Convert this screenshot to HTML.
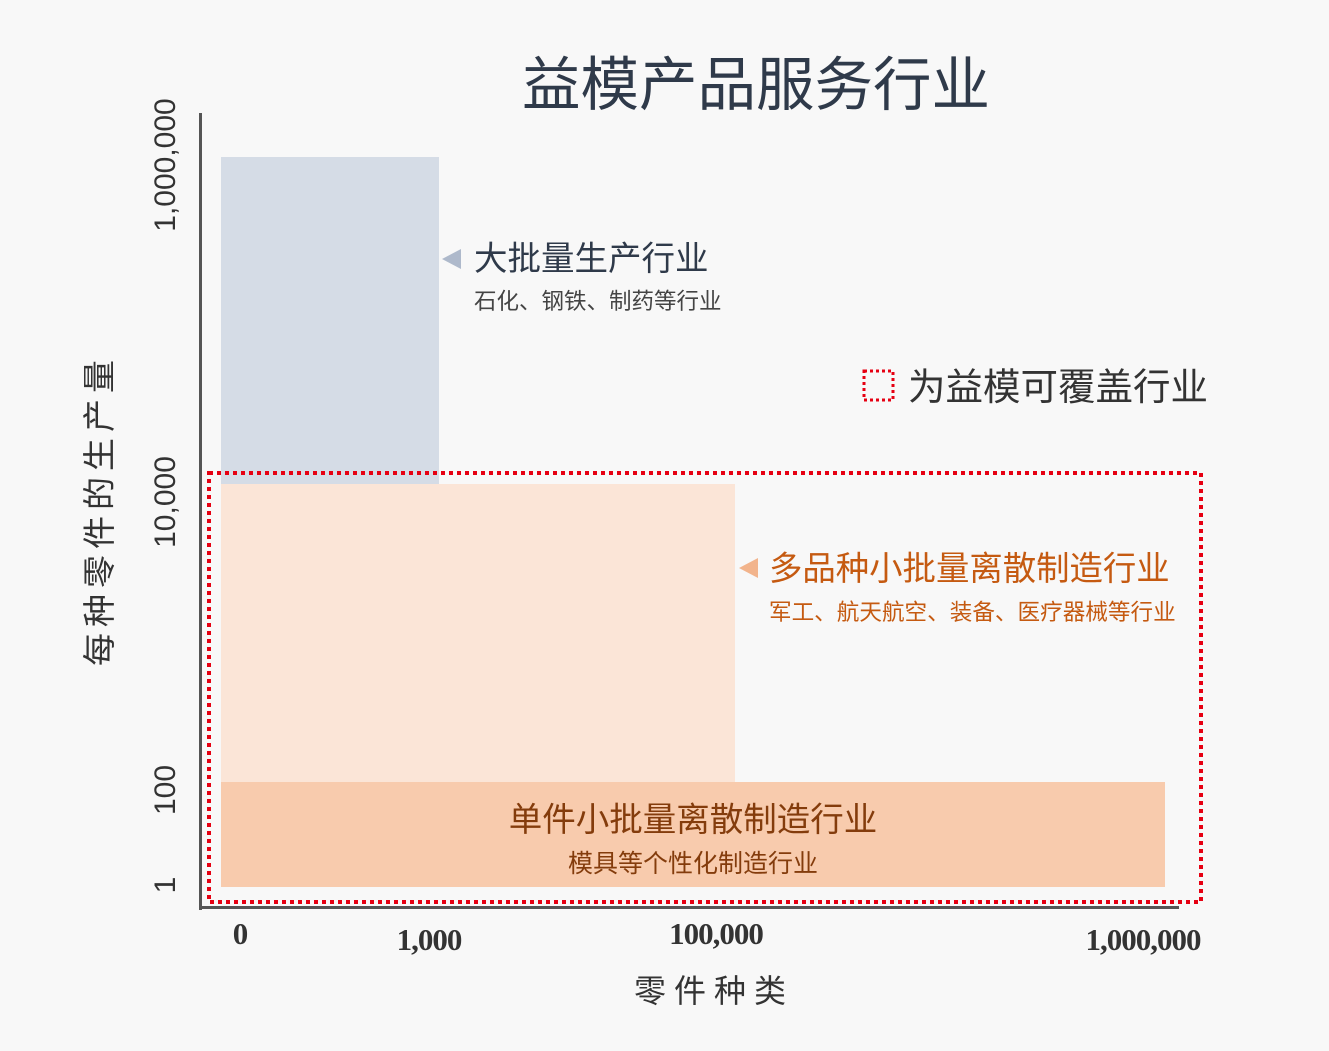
<!DOCTYPE html>
<html><head><meta charset="utf-8"><style>
body{margin:0;background:#f8f8f8;}
#c{position:relative;width:1329px;height:1051px;overflow:hidden;font-family:"Liberation Sans","Noto Sans CJK SC",sans-serif;}
.a{position:absolute;white-space:nowrap;}
.rot{position:absolute;transform:translate(-50%,-50%) rotate(-90deg);white-space:nowrap;}
.xl{position:absolute;transform:translateX(-50%);font-family:"Liberation Serif","Noto Serif CJK SC",serif;font-weight:bold;font-size:31px;color:#333;white-space:nowrap;letter-spacing:-1px;}
</style></head><body><div id="c">
<div class="a" style="left:0;width:1512px;top:37px;text-align:center;font-size:58.5px;color:#2f3a4a;">益模产品服务行业</div>
<div class="a" style="left:199px;top:113px;width:3px;height:797px;background:#555;"></div>
<div class="a" style="left:199px;top:906px;width:980px;height:3px;background:#555;"></div>
<div class="a" style="left:221px;top:157px;width:218px;height:327px;background:#d5dce6;"></div>
<div class="a" style="left:221px;top:484px;width:514px;height:298px;background:#fbe5d7;"></div>
<div class="a" style="left:221px;top:782px;width:944px;height:105px;background:#f8cbad;"></div>
<svg class="a" style="left:0;top:0" width="1329" height="1051">
<rect x="209" y="473" width="992" height="429" fill="none" stroke="#e60012" stroke-width="4" stroke-dasharray="4 4"/>
<rect x="864" y="371" width="29" height="29" fill="none" stroke="#e60012" stroke-width="3" stroke-dasharray="3 3"/>
</svg>
<div class="a" style="left:908px;top:356px;font-size:37.5px;color:#333;">为益模可覆盖行业</div>
<div class="a" style="left:442px;top:249px;width:0;height:0;border-top:10px solid transparent;border-bottom:10px solid transparent;border-right:19px solid #aeb9cb;"></div>
<div class="a" style="left:474px;top:231px;font-size:33.5px;color:#2f3a4a;">大批量生产行业</div>
<div class="a" style="left:474px;top:284px;font-size:22.5px;color:#444;">石化、钢铁、制药等行业</div>
<div class="a" style="left:739px;top:558px;width:0;height:0;border-top:10px solid transparent;border-bottom:10px solid transparent;border-right:19px solid #f2b48c;"></div>
<div class="a" style="left:769px;top:541px;font-size:33.4px;color:#c55a11;">多品种小批量离散制造行业</div>
<div class="a" style="left:769px;top:594px;font-size:22.6px;color:#c55a11;">军工、航天航空、装备、医疗器械等行业</div>
<div class="a" style="left:221px;width:944px;top:792px;text-align:center;font-size:33.5px;color:#843c0c;">单件小批量离散制造行业</div>
<div class="a" style="left:221px;width:944px;top:844px;text-align:center;font-size:25px;color:#843c0c;">模具等个性化制造行业</div>
<div class="rot" style="left:166px;top:165px;font-size:30px;color:#333;">1,000,000</div>
<div class="rot" style="left:166px;top:502px;font-size:30px;color:#333;">10,000</div>
<div class="rot" style="left:166px;top:790px;font-size:30px;color:#333;">100</div>
<div class="rot" style="left:166px;top:885px;font-size:30px;color:#333;">1</div>
<div class="rot" style="left:97px;top:510px;font-size:33px;color:#333;letter-spacing:6px;">每种零件的生产量</div>
<div class="xl" style="left:240px;top:916px;">0</div>
<div class="xl" style="left:429px;top:922px;">1,000</div>
<div class="xl" style="left:716px;top:916px;">100,000</div>
<div class="xl" style="left:1143px;top:922px;">1,000,000</div>
<div class="a" style="left:634px;top:966px;font-size:32px;color:#333;letter-spacing:8px;">零件种类</div>
</div></body></html>
